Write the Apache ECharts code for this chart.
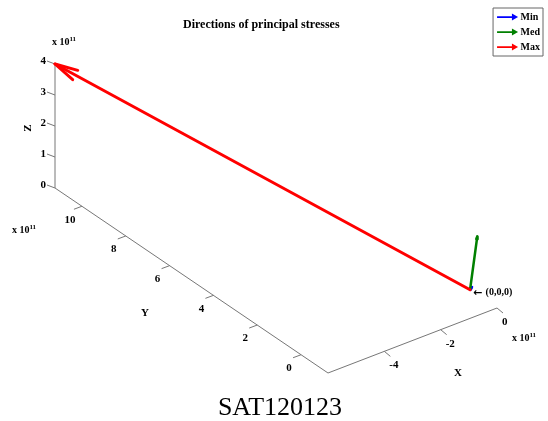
<!DOCTYPE html>
<html>
<head>
<meta charset="utf-8">
<script src="https://cdn.jsdelivr.net/npm/echarts@6/dist/echarts.min.js"></script>
<style>
html,body{margin:0;padding:0;background:#fff;}
#chart{width:548px;height:421px;}
</style>
</head>
<body>
<div id="chart"></div>
<script>
// ---- data (units of 1e11) ----
const vecNames = ['Min', 'Med', 'Max'];
const vecColors = ['#0000ff', '#008000', '#ff0000'];
const vecX = [0.09, -0.70, -6.00];
const vecY = [0.03, -1.23, 11.23];
const vecZ = [0.04, 2.55, 4.00];

const xLim = [-6.0, 0];
const yLim = [-1.23, 11.23];
const zLim = [0, 4];

const xTicks = [-4, -2, 0];
const yTicks = [0, 2, 4, 6, 8, 10];
const zTicks = [0, 1, 2, 3, 4];

// ---- view (oblique projection of the 3-D box onto the page plane) ----
const BOX_ORIGIN = [328, 373];   // page position of (xmin, ymin, zmin)
const EX = [169, -65];           // full x-axis extent on the page
const EY = [-273, -185];         // full y-axis extent on the page
const EZ = [0, -124];            // full z-axis extent on the page

function proj(x, y, z) {
  const nx = (x - xLim[0]) / (xLim[1] - xLim[0]);
  const ny = (y - yLim[0]) / (yLim[1] - yLim[0]);
  const nz = (z - zLim[0]) / (zLim[1] - zLim[0]);
  return [BOX_ORIGIN[0] + nx * EX[0] + ny * EY[0] + nz * EZ[0],
          BOX_ORIGIN[1] + nx * EX[1] + ny * EY[1] + nz * EZ[1]];
}

const FONT = '"Liberation Serif", "Times New Roman", serif';
const AXIS_COLOR = '#777';

const chart = echarts.init(document.getElementById('chart'), null, {renderer: 'canvas'});

function tickSeries(ticks, toPoint, tickDir, labelOff, align) {
  return {
    type: 'custom',
    coordinateSystem: 'cartesian2d',
    silent: true,
    data: ticks.map(v => [v]),
    renderItem: function (params, api) {
      const v = api.value(0);
      const p = api.coord(toPoint(v));
      return {
        type: 'group',
        children: [
          {type: 'line', shape: {x1: p[0], y1: p[1], x2: p[0] + tickDir[0], y2: p[1] + tickDir[1]},
           style: {stroke: AXIS_COLOR, lineWidth: 1}},
          {type: 'text', x: p[0] + labelOff[0], y: p[1] + labelOff[1],
           style: {text: String(v), fill: '#000', font: 'bold 11px ' + FONT, textAlign: align, textVerticalAlign: 'middle'}}
        ]
      };
    }
  };
}

const series = [];

// axis lines
series.push({
  type: 'custom',
  coordinateSystem: 'cartesian2d',
  silent: true,
  data: [[0]],
  renderItem: function (params, api) {
    const c = api.coord(proj(xLim[0], yLim[0], zLim[0]));
    const xe = api.coord(proj(xLim[1], yLim[0], zLim[0]));
    const ye = api.coord(proj(xLim[0], yLim[1], zLim[0]));
    const ze = api.coord(proj(xLim[0], yLim[1], zLim[1]));
    const st = {stroke: AXIS_COLOR, lineWidth: 1};
    return {
      type: 'group',
      children: [
        {type: 'line', shape: {x1: c[0], y1: c[1], x2: xe[0], y2: xe[1]}, style: st},
        {type: 'line', shape: {x1: c[0], y1: c[1], x2: ye[0], y2: ye[1]}, style: st},
        {type: 'line', shape: {x1: ye[0], y1: ye[1], x2: ze[0], y2: ze[1]}, style: st}
      ]
    };
  }
});

series.push(tickSeries(xTicks, v => proj(v, yLim[0], zLim[0]), [6, 5], [5, 14], 'left'));
series.push(tickSeries(yTicks, v => proj(xLim[0], v, zLim[0]), [-8, 3], [-12, 13.5], 'center'));
series.push(tickSeries(zTicks, v => proj(xLim[0], yLim[1], v), [-8, -3], [-9, -3], 'right'));

// vectors
vecNames.forEach(function (name, i) {
  series.push({
    name: name,
    type: 'custom',
    coordinateSystem: 'cartesian2d',
    silent: true,
    itemStyle: {color: vecColors[i]},
    data: [[0, 0, 0, vecX[i], vecY[i], vecZ[i]]],
    renderItem: function (params, api) {
      const a = api.coord(proj(api.value(0), api.value(1), api.value(2)));
      const b = api.coord(proj(api.value(3), api.value(4), api.value(5)));
      const dx = b[0] - a[0], dy = b[1] - a[1];
      const len = Math.sqrt(dx * dx + dy * dy) || 1;
      const ux = dx / len, uy = dy / len;
      const h = Math.max(len * 0.05, 2.5);
      const ang = 13 * Math.PI / 180;
      const ca = Math.cos(ang), sa = Math.sin(ang);
      const w1 = [b[0] - h * (ux * ca - uy * sa), b[1] - h * (uy * ca + ux * sa)];
      const w2 = [b[0] - h * (ux * ca + uy * sa), b[1] - h * (uy * ca - ux * sa)];
      const col = api.visual('color');
      const lw = i === 2 ? 3 : 2.5;
      return {
        type: 'group',
        children: [
          {type: 'line', shape: {x1: a[0], y1: a[1], x2: b[0], y2: b[1]},
           style: {stroke: col, lineWidth: lw, lineCap: 'round'}},
          {type: 'polyline', shape: {points: [w1, b, w2]},
           style: {stroke: col, fill: null, lineWidth: lw, lineJoin: 'round', lineCap: 'round'}}
        ]
      };
    }
  });
});

// origin annotation
series.push({
  type: 'custom',
  coordinateSystem: 'cartesian2d',
  silent: true,
  data: [[0, 0, 0]],
  renderItem: function (params, api) {
    const p = api.coord(proj(api.value(0), api.value(1), api.value(2)));
    return {
      type: 'text', x: p[0] + 3, y: p[1] + 3,
      style: {
        text: '{a|\u2190} {t|(0,0,0)}',
        rich: {
          a: {font: 'bold 11px "DejaVu Sans", sans-serif', fill: '#000'},
          t: {font: 'bold 10px ' + FONT, fill: '#000'}
        },
        textAlign: 'left', textVerticalAlign: 'middle'
      }
    };
  }
});

const richExp = {
  b: {font: 'bold 10px ' + FONT, fill: '#000'},
  s: {font: 'bold 7px ' + FONT, fill: '#000', verticalAlign: 'top', padding: [0, 0, 6, 0]}
};

const option = {
  animation: false,
  backgroundColor: '#fff',
  title: {
    text: 'Directions of principal stresses',
    left: 178, top: 14,
    textStyle: {fontFamily: FONT, fontWeight: 'bold', fontSize: 12, color: '#000'}
  },
  legend: {
    data: vecNames,
    orient: 'vertical',
    right: 5, top: 8,
    icon: 'path://M0,3 L17,3 L17,0 L24,4 L17,8 L17,5 L0,5 Z',
    itemWidth: 24, itemHeight: 7, itemGap: 5,
    padding: [4, 3, 4, 4],
    borderColor: '#666', borderWidth: 1,
    backgroundColor: '#fff',
    textStyle: {fontFamily: FONT, fontWeight: 'bold', fontSize: 10, color: '#000', padding: [0, 0, 0, -4]}
  },
  grid: {left: 0, right: 0, top: 0, bottom: 0, show: false},
  xAxis: {type: 'value', min: 0, max: 548, show: false},
  yAxis: {type: 'value', min: 0, max: 421, inverse: true, show: false},
  graphic: [
    {type: 'text', left: 52, top: 36, style: {rich: richExp, text: '{b|x 10}{s|11}'}},
    {type: 'text', left: 12, top: 224, style: {rich: richExp, text: '{b|x 10}{s|11}'}},
    {type: 'text', left: 512, top: 332, style: {rich: richExp, text: '{b|x 10}{s|11}'}},
    {type: 'text', x: 28, y: 128, rotation: Math.PI / 2,
     style: {text: 'Z', font: 'bold 11px ' + FONT, fill: '#000', textAlign: 'center', textVerticalAlign: 'middle'}},
    {type: 'text', x: 145, y: 313,
     style: {text: 'Y', font: 'bold 11px ' + FONT, fill: '#000', textAlign: 'center', textVerticalAlign: 'middle'}},
    {type: 'text', x: 458, y: 373,
     style: {text: 'X', font: 'bold 11px ' + FONT, fill: '#000', textAlign: 'center', textVerticalAlign: 'middle'}},
    {type: 'text', x: 280, y: 408,
     style: {text: 'SAT120123', font: '26px ' + FONT, fill: '#000', textAlign: 'center', textVerticalAlign: 'middle'}}
  ],
  series: series
};

chart.setOption(option);
</script>
</body>
</html>
